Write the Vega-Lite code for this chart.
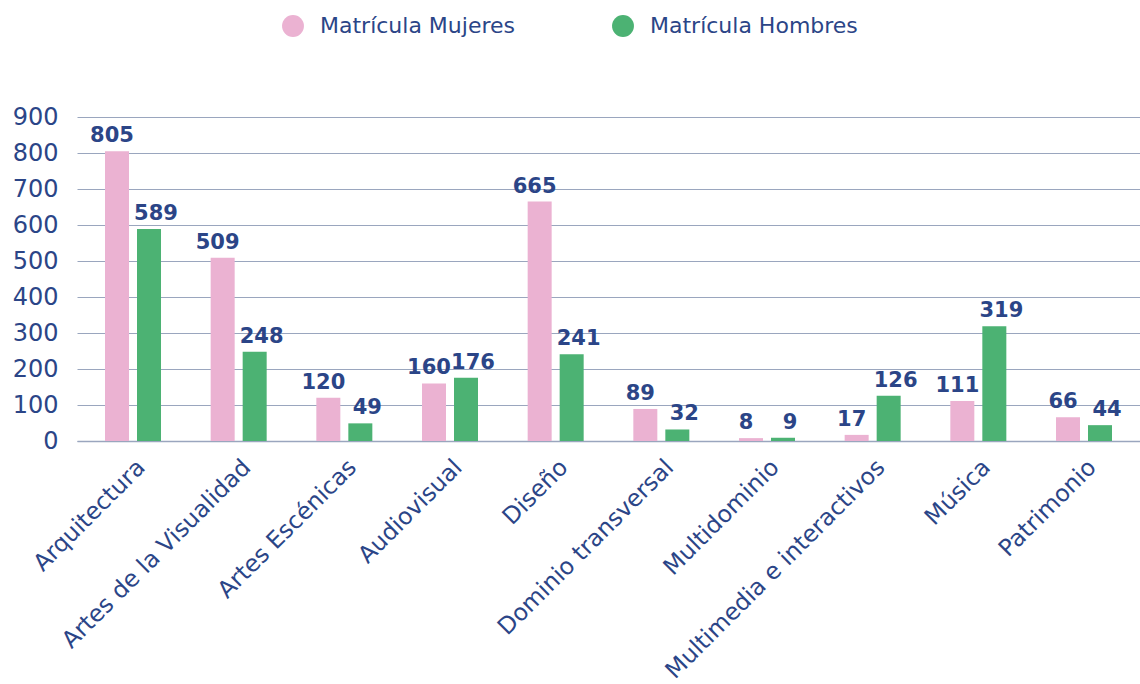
{
  "$schema": "https://vega.github.io/schema/vega-lite/v6.json",
  "width": 1063,
  "height": 324,
  "autosize": {"type": "none"},
  "padding": {"left": 77, "top": 117, "right": 0, "bottom": 243},
  "background": "white",
  "config": {
    "font": "DejaVu Sans",
    "view": {"stroke": null}
  },
  "data": {
    "values": [
      {"categoria": "Arquitectura", "serie": "Matrícula Mujeres", "valor": 805},
      {"categoria": "Arquitectura", "serie": "Matrícula Hombres", "valor": 589},
      {"categoria": "Artes de la Visualidad", "serie": "Matrícula Mujeres", "valor": 509},
      {"categoria": "Artes de la Visualidad", "serie": "Matrícula Hombres", "valor": 248},
      {"categoria": "Artes Escénicas", "serie": "Matrícula Mujeres", "valor": 120},
      {"categoria": "Artes Escénicas", "serie": "Matrícula Hombres", "valor": 49},
      {"categoria": "Audiovisual", "serie": "Matrícula Mujeres", "valor": 160},
      {"categoria": "Audiovisual", "serie": "Matrícula Hombres", "valor": 176},
      {"categoria": "Diseño", "serie": "Matrícula Mujeres", "valor": 665},
      {"categoria": "Diseño", "serie": "Matrícula Hombres", "valor": 241},
      {"categoria": "Dominio transversal", "serie": "Matrícula Mujeres", "valor": 89},
      {"categoria": "Dominio transversal", "serie": "Matrícula Hombres", "valor": 32},
      {"categoria": "Multidominio", "serie": "Matrícula Mujeres", "valor": 8},
      {"categoria": "Multidominio", "serie": "Matrícula Hombres", "valor": 9},
      {"categoria": "Multimedia e interactivos", "serie": "Matrícula Mujeres", "valor": 17},
      {"categoria": "Multimedia e interactivos", "serie": "Matrícula Hombres", "valor": 126},
      {"categoria": "Música", "serie": "Matrícula Mujeres", "valor": 111},
      {"categoria": "Música", "serie": "Matrícula Hombres", "valor": 319},
      {"categoria": "Patrimonio", "serie": "Matrícula Mujeres", "valor": 66},
      {"categoria": "Patrimonio", "serie": "Matrícula Hombres", "valor": 44}
    ]
  },
  "encoding": {
    "x": {
      "field": "categoria",
      "type": "nominal",
      "sort": null,
      "scale": {"paddingInner": 0.47, "paddingOuter": 0.265},
      "axis": {
        "title": null,
        "labelAngle": -45,
        "labelFontSize": 23.5,
        "labelColor": "#2B4587",
        "labelPadding": 14,
        "ticks": false,
        "domain": true,
        "domainColor": "#9AA6BE",
        "domainWidth": 1.5,
        "labelLimit": 400
      }
    },
    "xOffset": {
      "field": "serie",
      "type": "nominal",
      "sort": ["Matrícula Mujeres", "Matrícula Hombres"],
      "scale": {"paddingInner": 0.25, "paddingOuter": 0}
    },
    "y": {
      "field": "valor",
      "type": "quantitative",
      "scale": {"domain": [0, 900], "nice": false},
      "axis": {
        "title": null,
        "values": [0, 100, 200, 300, 400, 500, 600, 700, 800, 900],
        "labelFontSize": 24,
        "labelColor": "#2B4587",
        "labelPadding": 19,
        "ticks": false,
        "domain": false,
        "grid": true,
        "gridColor": "#9AA6BE",
        "gridWidth": 1
      }
    }
  },
  "layer": [
    {
      "mark": {"type": "bar"},
      "encoding": {
        "color": {
          "field": "serie",
          "type": "nominal",
          "scale": {
            "domain": ["Matrícula Mujeres", "Matrícula Hombres"],
            "range": ["#EBB2D2", "#4CB273"]
          },
          "legend": {
            "title": null,
            "orient": "none",
            "legendX": 205,
            "legendY": -102,
            "direction": "horizontal",
            "symbolType": "circle",
            "symbolSize": 480,
            "symbolStrokeWidth": 0,
            "labelFontSize": 22,
            "labelColor": "#2B4587",
            "labelOffset": 16,
            "labelLimit": 400,
            "columnPadding": 96
          }
        }
      }
    },
    {
      "transform": [{"filter": "datum.serie === 'Matrícula Mujeres'"}],
      "mark": {"type": "text", "baseline": "bottom", "dy": -5, "dx": -5, "fontSize": 21, "fontWeight": "bold", "color": "#2B4587"},
      "encoding": {
        "text": {"field": "valor", "type": "quantitative"}
      }
    },
    {
      "transform": [{"filter": "datum.serie === 'Matrícula Hombres'"}],
      "mark": {"type": "text", "baseline": "bottom", "dy": -5, "dx": 7, "fontSize": 21, "fontWeight": "bold", "color": "#2B4587"},
      "encoding": {
        "text": {"field": "valor", "type": "quantitative"}
      }
    }
  ]
}
